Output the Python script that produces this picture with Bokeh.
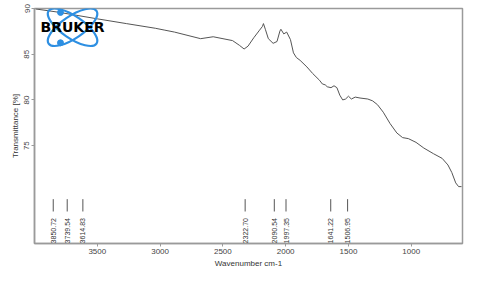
import math
from bokeh.plotting import figure
from bokeh.models import Range1d, FixedTicker, ColumnDataSource
from bokeh.core.properties import value
from bokeh.embed import file_html
from bokeh.resources import INLINE

# Spectrum (wavenumber cm-1, transmittance %)
wavenumber = [3990, 3808, 3500, 3269, 3038, 2962, 2885, 2677, 2577, 2423, 2369, 2331, 2300,
              2254, 2208, 2185, 2177, 2162, 2138, 2100, 2069, 2046, 2038, 2015, 1992, 1962,
              1938, 1915, 1885, 1831, 1785, 1731, 1708, 1685, 1669, 1639, 1615, 1592, 1569,
              1546, 1523, 1500, 1477, 1446, 1408, 1346, 1308, 1269, 1223, 1169, 1115, 1069,
              1023, 962, 900, 823, 754, 708, 677, 646, 623, 600]
transmittance = [89.95, 89.59, 88.87, 88.35, 87.84, 87.63, 87.42, 86.70, 86.91, 86.49, 85.98,
                 85.57, 85.88, 86.80, 87.63, 88.04, 88.35, 87.73, 86.70, 86.19, 86.39, 87.53,
                 87.73, 87.22, 87.42, 86.60, 85.15, 84.64, 84.33, 83.61, 82.89, 82.16, 81.75,
                 81.65, 81.44, 81.34, 81.55, 81.34, 80.52, 80.00, 80.10, 80.41, 80.10, 80.31,
                 80.21, 80.10, 79.90, 79.48, 78.66, 77.42, 76.39, 75.88, 75.77, 75.36, 74.74,
                 74.12, 73.61, 72.89, 72.06, 70.93, 70.52, 70.52]

# Peak picks
peak_positions = [3850.72, 3739.54, 3614.83, 2322.70, 2090.54, 1997.35, 1641.22, 1506.95]
peak_labels = ["3850.72", "3739.54", "3614.83", "2322.70", "2090.54", "1997.35", "1641.22", "1506.95"]

x_ticks = [1000, 1500, 2000, 2500, 3000, 3500]
y_ticks = [75, 80, 85, 90]

# Logo placement (data coords)
LOGO_X, LOGO_Y = 3697, 87.95
DOT_X, DOT_Y = [3793, 3793], [89.57, 86.25]

p = figure(width=464, height=270, output_backend="svg", toolbar_location=None,
           x_range=Range1d(4000, 592), y_range=Range1d(64.3, 90.0),
           min_border_left=34, min_border_right=2, min_border_top=8, min_border_bottom=4)

p.xgrid.visible = False
p.ygrid.visible = False
p.outline_line_color = "#9a9a9a"
p.outline_line_width = 1.5
p.background_fill_color = "white"
p.border_fill_color = "white"

for ax in (p.xaxis[0], p.yaxis[0]):
    ax.axis_line_color = "#9a9a9a"
    ax.axis_line_width = 1.5
    ax.major_tick_line_color = "#9a9a9a"
    ax.minor_tick_line_color = None
    ax.major_tick_out = 3
    ax.major_tick_in = 0
    ax.major_label_text_font = "Liberation Sans"
    ax.major_label_text_font_size = "8px"
    ax.major_label_text_color = "#444444"
    ax.axis_label_text_font = "Liberation Sans"
    ax.axis_label_text_font_size = "8px"
    ax.axis_label_text_font_style = "normal"
    ax.axis_label_text_color = "#333333"
    ax.major_label_standoff = 2
    ax.axis_label_standoff = 2

p.xaxis.ticker = FixedTicker(ticks=x_ticks)
p.yaxis.ticker = FixedTicker(ticks=y_ticks)
p.yaxis.major_label_orientation = "vertical"
p.xaxis.axis_label = "Wavenumber cm-1"
p.yaxis.axis_label = "Transmittance [%]"

# Spectrum
p.line(wavenumber, transmittance, line_color="#555555", line_width=1)

# Logo
for ang in (0.6, -0.6):
    p.ellipse(x=[LOGO_X], y=[LOGO_Y], width=58, height=22, width_units="screen",
              height_units="screen", angle=ang, fill_color=None, line_color="#2d8fe2",
              line_width=2.2)
p.scatter(x=DOT_X, y=DOT_Y, size=6, color="#2d8fe2")
p.text(x=[LOGO_X], y=[LOGO_Y], text=["BRUKER"], text_align="center", text_baseline="middle",
       text_font=value("DejaVu Sans"), text_font_style="bold", text_font_size="14px",
       text_color="black")

# Peak markers
src = ColumnDataSource(dict(x=peak_positions, lab=peak_labels))
p.segment(x0="x", y0=67.8, x1="x", y1=69.15, source=src, line_color="#555555", line_width=1)
p.text(x="x", y=67.08, text="lab", source=src, angle=math.pi / 2, text_align="right",
       text_baseline="middle", text_font=value("Liberation Sans"), text_font_size="7px",
       text_color="#333333")

open("out.html", "w").write(file_html(p, INLINE))
